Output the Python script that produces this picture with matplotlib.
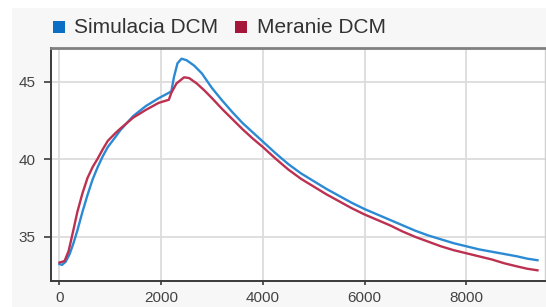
"""DCM temperature: simulation vs. measurement."""
import matplotlib
matplotlib.use('Agg')
import matplotlib.pyplot as plt
from matplotlib.patches import Rectangle

plt.rcParams['font.family'] = ['Liberation Sans', 'DejaVu Sans']

# ------------------------------------------------------------
# Data
# ------------------------------------------------------------
sim_x = [0, 50, 120, 200, 275, 350, 450, 550, 650, 750, 850, 950, 1100, 1200,
         1450, 1700, 1950, 2150, 2200, 2250, 2320, 2400, 2500, 2650, 2800,
         3000, 3200, 3400, 3600, 3800, 4000, 4250, 4500, 4750, 5000, 5250,
         5500, 5750, 6000, 6250, 6500, 6750, 7000, 7250, 7500, 7750, 8000,
         8250, 8500, 8750, 9000, 9200, 9400]
sim_y = [33.25, 33.2, 33.4, 33.9, 34.6, 35.4, 36.6, 37.7, 38.7, 39.5, 40.2,
         40.8, 41.45, 41.9, 42.8, 43.45, 43.95, 44.3, 44.4, 45.3, 46.2, 46.5,
         46.4, 46.05, 45.55, 44.6, 43.8, 43.05, 42.35, 41.75, 41.15, 40.4,
         39.7, 39.1, 38.6, 38.1, 37.65, 37.2, 36.8, 36.45, 36.1, 35.75, 35.4,
         35.1, 34.85, 34.6, 34.4, 34.2, 34.05, 33.9, 33.75, 33.6, 33.5]

meas_x = [0, 100, 180, 270, 350, 450, 550, 650, 750, 850, 950, 1100, 1200,
          1450, 1700, 1950, 2150, 2200, 2300, 2450, 2550, 2700, 2850, 3000,
          3200, 3400, 3600, 3800, 4000, 4250, 4500, 4750, 5000, 5250, 5500,
          5750, 6000, 6250, 6500, 6750, 7000, 7250, 7500, 7750, 8000, 8250,
          8500, 8750, 9000, 9200, 9400]
meas_y = [33.35, 33.45, 34.1, 35.4, 36.6, 37.8, 38.8, 39.5, 40.05, 40.65, 41.2,
          41.7, 42.0, 42.7, 43.2, 43.65, 43.85, 44.3, 44.9, 45.3, 45.25, 44.9,
          44.45, 43.95, 43.25, 42.6, 41.95, 41.35, 40.8, 40.05, 39.35, 38.75,
          38.25, 37.75, 37.3, 36.85, 36.45, 36.1, 35.75, 35.35, 35.0, 34.7,
          34.4, 34.15, 33.95, 33.75, 33.55, 33.3, 33.1, 32.95, 32.85]

labels = ['Simulacia DCM', 'Meranie DCM']
line_colors = ['#2b8ad3', '#bc3050']
legend_colors = ['#0c6fc4', '#a5163a']

# ------------------------------------------------------------
# Plot
# ------------------------------------------------------------
W, H = 546, 307
fig = plt.figure(figsize=(W / 100, H / 100), dpi=100)
fig.patch.set_facecolor('white')
fig.patches.append(Rectangle((12 / W, 0), 1, 1 - 8 / H, transform=fig.transFigure,
                             facecolor='#f7f7f7', edgecolor='none', zorder=-10))

ax = fig.add_axes([51 / W, 26 / H, 494 / W, 233 / H])
ax.set_facecolor('white')

ax.plot(sim_x, sim_y, color=line_colors[0], linewidth=1.7)
ax.plot(meas_x, meas_y, color=line_colors[1], linewidth=1.7)

ax.set_xlim(-167, 9548)
ax.set_ylim(32.16, 47.19)
ax.set_xticks([0, 2000, 4000, 6000, 8000])
ax.set_yticks([35, 40, 45])

ax.grid(True, color='#dcdcdc', linewidth=1.3)
ax.set_axisbelow(True)

for side in ['left', 'bottom']:
    ax.spines[side].set_color('#3a3a3a')
    ax.spines[side].set_linewidth(1.4)
ax.spines['top'].set_color('#808080')
ax.spines['top'].set_linewidth(2)
ax.spines['right'].set_color('#d0d0d0')
ax.spines['right'].set_linewidth(1)

ax.tick_params(axis='both', colors='#3a3a3a', labelcolor='#444444', labelsize=11)
ax.tick_params(axis='x', length=3, width=1.2, pad=4)
ax.tick_params(axis='y', length=5, width=1.2, pad=6)

# Legend across the top: coloured squares + labels
sq_x = [53, 235]
txt_x = [74, 257]
for i in range(2):
    fig.patches.append(Rectangle((sq_x[i] / W, 1 - 33 / H), 12 / W, 12 / H,
                                 transform=fig.transFigure, facecolor=legend_colors[i],
                                 edgecolor='none'))
    fig.text(txt_x[i] / W, 1 - 33 / H, labels[i], color='#333333', fontsize=15,
             va='baseline', ha='left')

plt.savefig('out.png', dpi=100)
